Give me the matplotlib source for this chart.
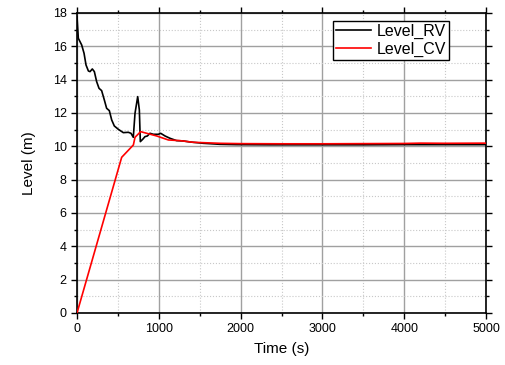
import matplotlib
matplotlib.use("Agg")
import matplotlib.pyplot as plt
from matplotlib.ticker import MultipleLocator

plt.rcParams['font.family'] = ['Liberation Sans', 'DejaVu Sans']

t_rv = [0, 16, 57, 86, 110, 139, 159, 187, 212, 240, 269, 301, 334, 362, 395, 424, 456,
        505, 566, 627, 660, 688, 709, 742, 762, 774, 803, 831, 860, 892, 933, 994, 1023,
        1076, 1137, 1218, 1300, 1381, 1544, 1748, 1951, 2359, 3000, 3500, 4000, 4500, 5000]
level_rv = [17.78, 16.48, 16.08, 15.58, 14.88, 14.52, 14.48, 14.64, 14.48, 13.88, 13.48,
            13.34, 12.78, 12.28, 12.14, 11.58, 11.22, 11.02, 10.82, 10.84, 10.78, 10.54,
            11.98, 12.98, 12.18, 10.28, 10.42, 10.58, 10.62, 10.78, 10.72, 10.72, 10.78,
            10.62, 10.48, 10.34, 10.32, 10.26, 10.18, 10.12, 10.10, 10.09, 10.09, 10.09,
            10.10, 10.10, 10.10]

t_cv = [0, 546, 689, 709, 778, 852, 974, 1117, 1259, 1422, 1748, 2000, 2500, 3000, 3500,
        4000, 4200, 4500, 5000]
level_cv = [0.0, 9.34, 10.08, 10.54, 10.88, 10.78, 10.62, 10.38, 10.34, 10.24, 10.18,
            10.16, 10.15, 10.15, 10.16, 10.17, 10.19, 10.18, 10.19]

fig = plt.figure(figsize=(5.05, 3.65), dpi=100)
ax = fig.add_axes([0.1525, 0.1425, 0.8099, 0.822])

ax.plot(t_rv, level_rv, color='black', lw=1.2, label='Level_RV', zorder=3)
ax.plot(t_cv, level_cv, color='#ff0000', lw=1.2, label='Level_CV', zorder=4)

ax.set_xlim(0, 5000)
ax.set_ylim(0, 18)
ax.xaxis.set_major_locator(MultipleLocator(1000))
ax.xaxis.set_minor_locator(MultipleLocator(500))
ax.yaxis.set_major_locator(MultipleLocator(2))
ax.yaxis.set_minor_locator(MultipleLocator(1))

ax.grid(which='major', color='#a0a0a0', lw=1.0, ls='-')
ax.grid(which='minor', color='#c8c8c8', lw=0.8, ls=':')
ax.set_axisbelow(True)

ax.tick_params(which='both', direction='out', top=True, right=True,
               labelsize=9, colors='black', pad=3.5)
ax.tick_params(which='major', length=4, width=1)
ax.tick_params(which='minor', length=2, width=1)
for s in ax.spines.values():
    s.set_linewidth(1.2)
    s.set_color('black')

ax.set_xlabel('Time (s)', fontsize=11, labelpad=5)
ax.set_ylabel('Level (m)', fontsize=11, labelpad=12)

leg = ax.legend(loc='upper right', bbox_to_anchor=(0.91, 0.974), fontsize=11.5,
                frameon=True, fancybox=False, edgecolor='black', framealpha=1,
                handlelength=2.2, handletextpad=0.35, borderpad=0.2, labelspacing=0.15,
                borderaxespad=0)
leg.get_frame().set_linewidth(1.0)

fig.savefig('out.png', dpi=100)
